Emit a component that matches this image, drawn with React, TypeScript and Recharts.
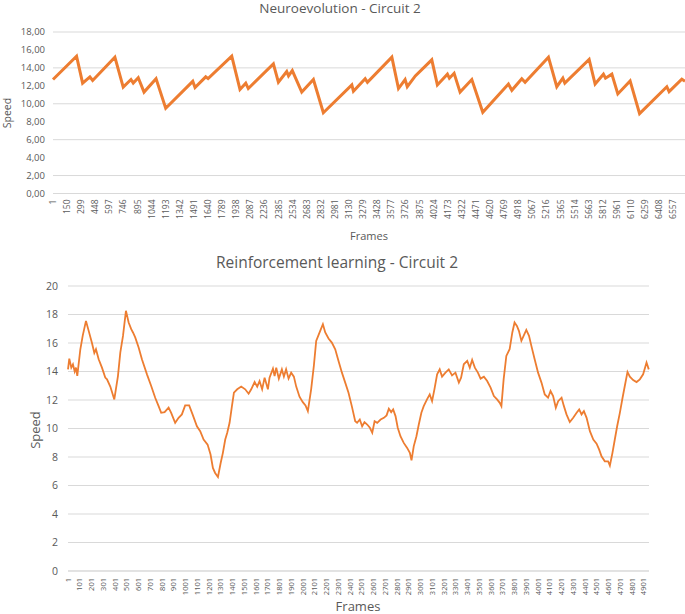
import React from 'react';
import { LineChart, Line, XAxis, YAxis, CartesianGrid } from 'recharts';

// Neuroevolution - Circuit 2 (breakpoints of the sawtooth)
const neFrames = [
  1, 250, 314, 391, 420, 655, 743, 825, 849, 902, 963, 1090, 1192, 1478, 1502, 1615, 1640,
  1890, 1977, 2038, 2065, 2330, 2383, 2471, 2490, 2530, 2630, 2753, 2858, 3159, 3176, 3300,
  3324, 3582, 3652, 3722, 3745, 3830, 4004, 4063, 4169, 4190, 4240, 4303, 4427, 4543, 4814,
  4850, 4955, 4990, 5237, 5325, 5389, 5410, 5667, 5730, 5818, 5840, 5907, 5970, 6100, 6200,
  6488, 6512, 6646, 6680,
];
const neSpeeds = [
  12.7, 15.3, 12.3, 13.0, 12.6, 15.2, 11.85, 12.7, 12.3, 12.9, 11.3, 12.8, 9.5, 12.5, 11.8, 13.0, 12.8,
  15.3, 11.6, 12.3, 11.7, 14.45, 12.4, 13.6, 13.1, 13.7, 11.3, 12.7, 9.0, 12.1, 11.4, 12.8,
  12.4, 15.2, 11.7, 12.7, 11.9, 13.1, 14.9, 12.1, 13.3, 12.85, 13.4, 11.3, 12.7, 9.05, 12.2,
  11.5, 12.8, 12.4, 15.2, 11.9, 12.85, 12.3, 14.95, 12.2, 13.3, 12.85, 13.3, 11.1, 12.55, 8.9,
  11.9, 11.35, 12.75, 12.5,
];
const neTicks = [
  1, 150, 299, 448, 597, 746, 895, 1044, 1193, 1342, 1491, 1640, 1789, 1938, 2087, 2236, 2385,
  2534, 2683, 2832, 2981, 3130, 3279, 3428, 3577, 3726, 3875, 4024, 4173, 4322, 4471, 4620,
  4769, 4918, 5067, 5216, 5365, 5514, 5663, 5812, 5961, 6110, 6259, 6408, 6557,
];
const neYTicks = [0, 2, 4, 6, 8, 10, 12, 14, 16, 18];

// Reinforcement learning - Circuit 2
const rlFrames = [
  1, 12, 29, 43, 58, 69, 80, 106, 126, 154, 177, 205, 225, 239, 262, 290, 318, 333, 361, 395,
  426, 446, 469, 494, 517, 539, 554, 573, 602, 630, 673, 709, 743, 772, 794, 823, 857, 879,
  913, 942, 970, 998, 1032, 1061, 1098, 1126, 1155, 1189, 1214, 1234, 1253, 1277, 1300, 1319,
  1339, 1356, 1376, 1396, 1413, 1441, 1475, 1509, 1538, 1560, 1589, 1611, 1631, 1653, 1674,
  1702, 1716, 1745, 1759, 1773, 1795, 1821, 1838, 1857, 1878, 1900, 1923, 1943, 1971, 1999,
  2022, 2042, 2070, 2093, 2113, 2142, 2170, 2190, 2218, 2246, 2275, 2303, 2332, 2360, 2388,
  2416, 2445, 2461, 2484, 2504, 2524, 2547, 2570, 2590, 2610, 2632, 2661, 2689, 2712, 2731,
  2751, 2768, 2788, 2807, 2830, 2858, 2887, 2910, 2924, 2943, 2966, 2986, 3008, 3028, 3056,
  3079, 3099, 3119, 3142, 3164, 3184, 3213, 3241, 3269, 3298, 3327, 3346, 3369, 3398, 3420,
  3440, 3463, 3489, 3512, 3540, 3568, 3597, 3625, 3652, 3675, 3689, 3708, 3731, 3759, 3782,
  3801, 3821, 3838, 3859, 3878, 3901, 3924, 3944, 3972, 4001, 4030, 4058, 4086, 4107, 4129,
  4152, 4172, 4201, 4221, 4243, 4271, 4300, 4329, 4351, 4371, 4391, 4414, 4442, 4471, 4499,
  4521, 4541, 4569, 4597, 4612, 4634, 4654, 4674, 4697, 4720, 4739, 4762, 4782, 4810, 4839,
  4867, 4895, 4924, 4943,
];
const rlSpeeds = [
  14.15, 14.9, 14.27, 14.5, 14.0, 14.27, 13.7, 15.56, 16.5, 17.55, 16.85, 16.0, 15.3, 15.56, 14.86, 14.27, 13.57, 13.45, 12.94, 12.04,
  13.68, 15.33, 16.5, 18.26, 17.44, 16.97, 16.74, 16.39, 15.68, 14.86, 13.8, 12.98, 12.16, 11.57, 11.1, 11.15, 11.46, 11.1,
  10.4, 10.75, 10.99, 11.62, 11.62, 10.99, 10.16, 9.81, 9.23, 8.87, 8.17, 7.23, 6.88, 6.6, 7.58, 8.29,
  9.23, 9.7, 10.4, 11.57, 12.51, 12.75, 12.94, 12.75, 12.44, 12.75, 13.26, 12.94, 13.33, 12.75, 13.57,
  12.75, 13.57, 14.2, 13.68, 14.27, 13.5, 14.15, 13.64, 14.15, 13.5, 13.92, 13.64, 12.94, 12.23, 11.85,
  11.62, 11.22, 12.75, 14.39, 16.15, 16.74, 17.32, 16.74, 16.32, 16.03, 15.56, 14.74, 13.92, 13.22, 12.51,
  11.57, 10.51, 10.4, 10.63, 10.16, 10.45, 10.28, 10.05, 9.7, 10.51, 10.4, 10.63, 10.75, 10.92, 11.39,
  11.15, 11.34, 10.87, 10.05, 9.46, 8.99, 8.64, 8.29, 7.77, 8.75, 9.46, 10.28, 11.1, 11.57, 12.04,
  12.39, 11.92, 12.75, 13.8, 14.15, 13.64, 13.92, 14.15, 13.73, 13.92, 13.22, 13.57, 14.51, 14.74, 14.27,
  14.81, 14.27, 13.92, 13.5, 13.64, 13.33, 12.87, 12.28, 12.04, 11.8, 11.57, 13.45, 15.09, 15.56, 16.74,
  17.44, 17.2, 16.85, 16.15, 16.5, 16.92, 16.5, 15.8, 14.86, 13.92, 13.22, 12.39, 12.16, 12.63, 12.28,
  11.46, 11.92, 12.16, 11.57, 10.99, 10.45, 10.75, 11.1, 11.34, 10.99, 11.22, 10.75, 9.81, 9.23, 8.94,
  8.52, 8.05, 7.7, 7.7, 7.39, 8.29, 9.23, 10.16, 11.1, 12.16, 12.98, 13.97, 13.64, 13.4, 13.26,
  13.45, 13.8, 14.63, 14.15,
];
const rlTicks = [
  1, 101, 201, 301, 401, 501, 601, 701, 801, 901, 1001, 1101, 1201, 1301, 1401, 1501, 1601,
  1701, 1801, 1901, 2001, 2101, 2201, 2301, 2401, 2501, 2601, 2701, 2801, 2901, 3001, 3101,
  3201, 3301, 3401, 3501, 3601, 3701, 3801, 3901, 4001, 4101, 4201, 4301, 4401, 4501, 4601,
  4701, 4801, 4901,
];
const rlYTicks = [0, 2, 4, 6, 8, 10, 12, 14, 16, 18, 20];

const TEXT = '#595959';
const GRID = '#d9d9d9';
const ORANGE = '#ED7D31';
const FONT = '"Open Sans", sans-serif';

const neData = neFrames.map((f, i) => ({ frame: f, speed: neSpeeds[i] }));
const rlData = rlFrames.map((f, i) => ({ frame: f, speed: rlSpeeds[i] }));

const rotatedTick = (fontSize: number, weight: number) => (props: any) => {
  const { x, y, payload } = props;
  return (
    <g transform={`translate(${x},${y})`}>
      <text
        transform="rotate(-90)"
        textAnchor="end"
        dy={fontSize * 0.35}
        fill={TEXT}
        fontSize={fontSize}
        fontWeight={weight}
        fontFamily={FONT}
      >
        {payload.value}
      </text>
    </g>
  );
};

const label = (text: string, x: number, y: number, size: number, weight: number, rotate = false) => (
  <div
    style={{
      position: 'absolute',
      left: x,
      top: y,
      transform: `translate(-50%, -50%)${rotate ? ' rotate(-90deg)' : ''}`,
      whiteSpace: 'nowrap',
      fontFamily: FONT,
      fontSize: size,
      fontWeight: weight,
      color: TEXT,
      lineHeight: 1,
    }}
  >
    {text}
  </div>
);

export default function App() {
  return (
    <div style={{ position: 'absolute', left: 0, top: 0, width: 685, height: 614, background: '#fff', overflow: 'hidden' }}>
      {label('Neuroevolution - Circuit 2', 340, 9, 13.5, 400)}
      {label('Speed', 7, 113, 10.5, 400, true)}
      {label('Frames', 369, 235, 11, 400)}
      <div style={{ position: 'absolute', left: 0, top: 0 }}>
        <LineChart width={685} height={245} data={neData} margin={{ top: 32, right: 0, bottom: 0, left: 0 }}>
          <CartesianGrid vertical={false} stroke={GRID} />
          <XAxis
            type="number"
            dataKey="frame"
            domain={[1, 6680]}
            ticks={neTicks}
            interval={0}
            height={51.5}
            axisLine={{ stroke: GRID }}
            tickLine={false}
            tickSize={4}
            tickMargin={2}
            tick={rotatedTick(8.5, 400)}
          />
          <YAxis
            type="number"
            domain={[0, 18]}
            ticks={neYTicks}
            width={53}
            axisLine={false}
            tickLine={false}
            tick={{ fill: TEXT, fontSize: 9.5, fontFamily: FONT }}
            tickFormatter={(v: number) => v.toFixed(2).replace('.', ',')}
          />
          <Line type="linear" dataKey="speed" stroke={ORANGE} strokeWidth={3} dot={false} isAnimationActive={false} />
        </LineChart>
      </div>

      {label('Reinforcement learning - Circuit 2', 337, 263, 15.5, 400)}
      {label('Speed', 35, 430, 13, 500, true)}
      {label('Frames', 358, 606, 13, 500)}
      <div style={{ position: 'absolute', left: 0, top: 250 }}>
        <LineChart width={685} height={364} data={rlData} margin={{ top: 36, right: 36, bottom: 0, left: 0 }}>
          <CartesianGrid vertical={false} stroke={GRID} />
          <XAxis
            type="number"
            dataKey="frame"
            domain={[1, 4945]}
            ticks={rlTicks}
            interval={0}
            height={43}
            axisLine={{ stroke: GRID }}
            tickLine={false}
            tickSize={4}
            tickMargin={3}
            tick={rotatedTick(7.5, 500)}
          />
          <YAxis
            type="number"
            domain={[0, 20]}
            ticks={rlYTicks}
            width={68}
            axisLine={false}
            tickLine={false}
            tickMargin={4}
            tick={{ fill: TEXT, fontSize: 10.5, fontWeight: 500, fontFamily: FONT }}
          />
          <Line type="linear" dataKey="speed" stroke={ORANGE} strokeWidth={1.8} dot={false} isAnimationActive={false} />
        </LineChart>
      </div>
    </div>
  );
}
